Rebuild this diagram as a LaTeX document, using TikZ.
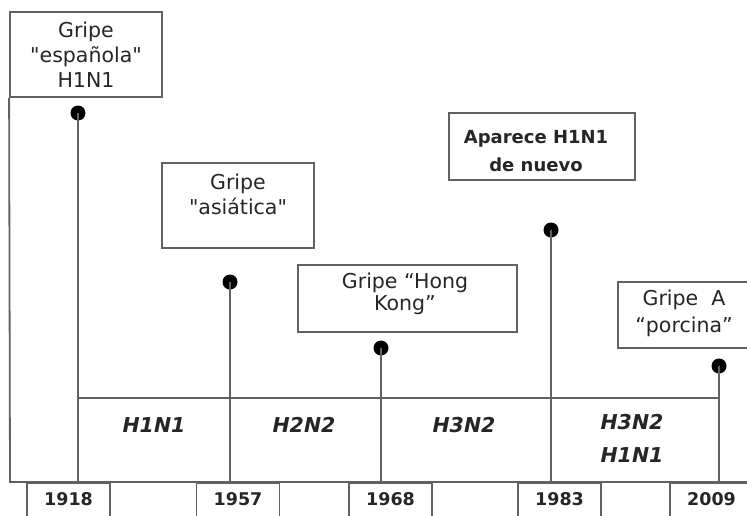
\documentclass[tikz,border=0pt]{standalone}
\usepackage{fontspec}
\setmainfont{DejaVu Sans}[Ligatures=TeXOff]
\begin{document}
\begin{tikzpicture}[x=1pt,y=-1pt,
  ln/.style={draw=black!62,line width=1.8pt},
  evbox/.style={draw=black!62,line width=1.8pt,inner sep=0pt},
  evtext/.style={align=center,inner sep=0pt,text=black!85,font=\fontsize{20.5}{25}\selectfont},
  dot/.style={circle,fill=black,inner sep=0pt,minimum size=15pt},
  sub/.style={align=center,inner sep=0pt,text=black!85,font=\fontsize{20.5}{33}\selectfont\bfseries\itshape},
  yearbox/.style={draw=black!62,line width=1.6pt,anchor=north,minimum width=83pt,inner xsep=0pt,inner ysep=4pt,text height=19pt,text depth=20pt,text=black!85,font=\fontsize{17.5}{18}\selectfont\bfseries}
]
\clip (0,0) rectangle (747,515);
\fill[white] (0,0) rectangle (747,515);
% event boxes
\node[evbox,minimum width=152pt,minimum height=85pt] (b1) at (86,54.5) {};
\node[evbox,minimum width=152pt,minimum height=85pt] (b2) at (238,205.5) {};
\node[evbox,minimum width=219pt,minimum height=67pt] (b3) at (407.5,298.5) {};
\node[evbox,minimum width=186pt,minimum height=67pt] (b4) at (542,146.5) {};
\node[evbox,minimum width=142pt,minimum height=66pt] (b5) at (689,315) {};
% event texts
\node[evtext] (t1) at (86,55) {Gripe\\"española"\\H1N1};
\node[evtext] (t2) at (238,194) {Gripe\\"asiática"};
\node[evtext,font=\fontsize{20.5}{22}\selectfont] (t3) at (405,294) {Gripe “Hong\\Kong”};
\node[evtext,font=\fontsize{18}{28}\selectfont\bfseries] (t4) at (536,151) {Aparece H1N1\\de nuevo};
\node[evtext,font=\fontsize{20.5}{27}\selectfont] (t5) at (684,313) {Gripe\ \ A\\“porcina”};
% axis coordinates
\coordinate (c0) at (10,482);
\coordinate (cend) at (760,482);
\coordinate (y1) at (78,482);
\coordinate (y2) at (230,482);
\coordinate (y3) at (381,482);
\coordinate (y4) at (551,482);
\coordinate (y5) at (719,482);
\coordinate (m1) at (78,398);
\coordinate (m5) at (719,398);
% main frame lines
\draw[ln] (b1.south west) -- (c0) -- (cend);
\draw[ln] (m1) -- (m5);
% dots and stems
\node[dot] (d1) at (78,113) {};
\node[dot] (d2) at (230,282) {};
\node[dot] (d3) at (381,348) {};
\node[dot] (d4) at (551,230) {};
\node[dot] (d5) at (719,366) {};
\draw[ln] (d1.center) -- (y1);
\draw[ln] (d2.center) -- (y2);
\draw[ln] (d3.center) -- (y3);
\draw[ln] (d4.center) -- (y4);
\draw[ln] (d5.center) -- (y5);
% subtype labels
\node[sub] (s1) at (154,425) {H1N1};
\node[sub] (s2) at (304,425) {H2N2};
\node[sub] (s3) at (464,425) {H3N2};
\node[sub] (s4) at (632,438) {H3N2\\H1N1};
% year boxes
\node[yearbox] (yr1) at (68.5,482) {1918};
\node[yearbox] (yr2) at (238,482) {1957};
\node[yearbox] (yr3) at (390.5,482) {1968};
\node[yearbox] (yr4) at (559.5,482) {1983};
\node[yearbox] (yr5) at (711.5,482) {2009};
\end{tikzpicture}
\end{document}
